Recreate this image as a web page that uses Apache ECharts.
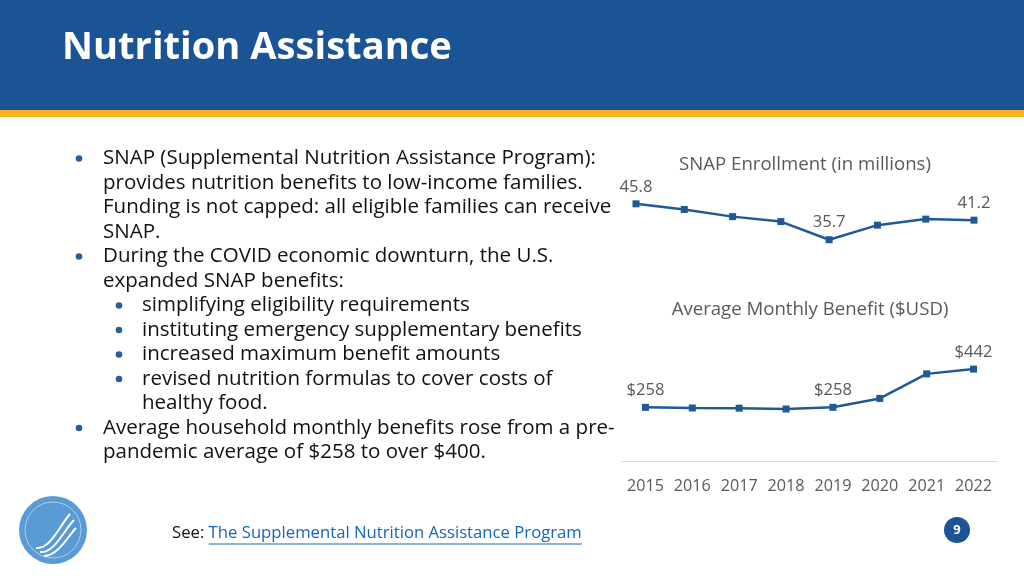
<!DOCTYPE html>
<html><head><meta charset="utf-8">
<script src="https://cdn.jsdelivr.net/npm/echarts@6/dist/echarts.min.js"></script>
<style>html,body{margin:0;padding:0;background:#fff}#c{width:1024px;height:576px}</style>
</head><body><div id="c"></div>
<script>
const years = ['2015','2016','2017','2018','2019','2020','2021','2022'];
const enrollment = [45.8, 44.2, 42.2, 40.8, 35.7, 39.8, 41.5, 41.2];
const benefit = [258, 255, 254, 250, 258, 301, 419, 442];
const enrollLabelIdx = [0, 4, 7];
const benefitLabelIdx = [0, 4, 7];
const titleText = 'Nutrition Assistance';
const chart1Title = 'SNAP Enrollment (in millions)';
const chart2Title = 'Average Monthly Benefit ($USD)';
const bullets = [
  {lvl:1, lines:['SNAP (Supplemental Nutrition Assistance Program):','provides nutrition benefits to low-income families.','Funding is not capped: all eligible families can receive','SNAP.']},
  {lvl:1, lines:['During the COVID economic downturn, the U.S.','expanded SNAP benefits:']},
  {lvl:2, lines:['simplifying eligibility requirements']},
  {lvl:2, lines:['instituting emergency supplementary benefits']},
  {lvl:2, lines:['increased maximum benefit amounts']},
  {lvl:2, lines:['revised nutrition formulas to cover costs of','healthy food.']},
  {lvl:1, lines:['Average household monthly benefits rose from a pre-','pandemic average of $258 to over $400.']}
];

const FONT = '"Open Sans", sans-serif';
const blue = '#1F5A96';
const grey = '#595959';

const cv = document.createElement('canvas').getContext('2d');
function fit(text, weight, target){
  cv.font = weight + ' 20px ' + FONT;
  return +(20 * target / cv.measureText(text).width).toFixed(2);
}
const bodySize = (fit('provides nutrition benefits to low-income families.', 'normal', 482) +
                  fit('Funding is not capped: all eligible families can receive', 'normal', 506)) / 2;
const titleSize = fit(titleText, 'bold', 390);
const chartTitleSize = fit(chart1Title, 'normal', 252);
const footSize = fit('See: The Supplemental Nutrition Assistance Program', 'normal', 410);
const tickSize = fit('2015', 'normal', 37);
const labSize = fit('$258', 'normal', 38);

const g = [];
g.push({type:'rect', shape:{x:0,y:0,width:1024,height:110}, style:{fill:'#1A5494'}});
g.push({type:'rect', shape:{x:0,y:110,width:1024,height:7}, style:{fill:'#F9B224'}});
g.push({type:'text', x:62, y:48, style:{text:titleText, fill:'#fff', font:'bold '+titleSize+'px '+FONT, textVerticalAlign:'middle'}});

let y = 158.5;
const LH = 24.5;
bullets.forEach(b => {
  const bx = b.lvl === 1 ? 79 : 119;
  const tx = b.lvl === 1 ? 103 : 142;
  g.push({type:'circle', shape:{cx:bx, cy:y, r:3.3}, style:{fill:'#2A5C9E'}});
  b.lines.forEach(l => {
    g.push({type:'text', x:tx, y:y, style:{text:l, fill:'#111', font:bodySize+'px '+FONT, textVerticalAlign:'middle'}});
    y += LH;
  });
});

// chart titles
g.push({type:'text', x:805, y:165, style:{text:chart1Title, fill:grey, font:chartTitleSize+'px '+FONT, textAlign:'center', textVerticalAlign:'middle'}});
g.push({type:'text', x:810, y:310, style:{text:chart2Title, fill:grey, font:chartTitleSize+'px '+FONT, textAlign:'center', textVerticalAlign:'middle'}});

// footer
cv.font = footSize + 'px ' + FONT;
const seeW = cv.measureText('See: ').width;
const linkW = cv.measureText('The Supplemental Nutrition Assistance Program').width;
g.push({type:'text', x:172, y:533.5, style:{text:'See: ', fill:'#111', font:footSize+'px '+FONT, textVerticalAlign:'middle'}});
g.push({type:'text', x:172+seeW, y:533.5, style:{text:'The Supplemental Nutrition Assistance Program', fill:'#1565C0', font:footSize+'px '+FONT, textVerticalAlign:'middle'}});
g.push({type:'line', shape:{x1:172+seeW,y1:544,x2:172+seeW+linkW,y2:544}, style:{stroke:'#1565C0', lineWidth:1}});
// page number
g.push({type:'circle', shape:{cx:957, cy:530, r:13}, style:{fill:'#1A5494'}});
g.push({type:'text', x:957, y:530, style:{text:'9', fill:'#fff', font:'bold 13px '+FONT, textAlign:'center', textVerticalAlign:'middle'}});
// logo
g.push({type:'circle', shape:{cx:53, cy:530, r:34}, style:{fill:'#5B9BD5'}});
g.push({type:'circle', shape:{cx:53, cy:530, r:28}, style:{fill:'none', stroke:'rgba(255,255,255,0.5)', lineWidth:1}});
g.push({type:'bezierCurve', shape:{x1:36,y1:548,x2:70,y2:514,cpx1:50,cpy1:550,cpx2:60,cpy2:525}, style:{stroke:'#fff', lineWidth:2, fill:'none'}});
g.push({type:'bezierCurve', shape:{x1:40,y1:552,x2:74,y2:520,cpx1:54,cpy1:554,cpx2:64,cpy2:530}, style:{stroke:'#fff', lineWidth:2, fill:'none'}});
g.push({type:'bezierCurve', shape:{x1:44,y1:556,x2:76,y2:528,cpx1:58,cpy1:556,cpx2:68,cpy2:536}, style:{stroke:'#fff', lineWidth:2, fill:'none'}});

function lbl(idxs, fmt){
  return {show:true, position:'top', distance:5, color:grey, fontSize:labSize, fontFamily:FONT,
    formatter: p => idxs.includes(p.dataIndex) ? fmt(p.value) : ''};
}

const option = {
  animation:false,
  grid:[
    {left:636, top:180, width:338, height:80},
    {left:622, top:330, width:375, height:131}
  ],
  xAxis:[
    {type:'category', gridIndex:0, data:years, boundaryGap:false, show:false},
    {type:'category', gridIndex:1, data:years, boundaryGap:true,
     axisLine:{show:true, lineStyle:{color:'#D9D9D9', width:1}}, axisTick:{show:false},
     axisLabel:{color:grey, fontSize:tickSize, fontFamily:FONT, margin:17, interval:0}}
  ],
  yAxis:[
    {type:'value', gridIndex:0, min:30, max:52.5, show:false},
    {type:'value', gridIndex:1, min:0, max:630, show:false}
  ],
  series:[
    {type:'line', xAxisIndex:0, yAxisIndex:0, data:enrollment, symbol:'rect', symbolSize:7,
     lineStyle:{color:blue, width:2.5}, itemStyle:{color:blue}, label:lbl(enrollLabelIdx, v=>String(v))},
    {type:'line', xAxisIndex:1, yAxisIndex:1, data:benefit, symbol:'rect', symbolSize:7,
     lineStyle:{color:blue, width:2.5}, itemStyle:{color:blue}, label:lbl(benefitLabelIdx, v=>'$'+v)}
  ],
  graphic:g
};
echarts.init(document.getElementById('c')).setOption(option);
</script></body></html>
